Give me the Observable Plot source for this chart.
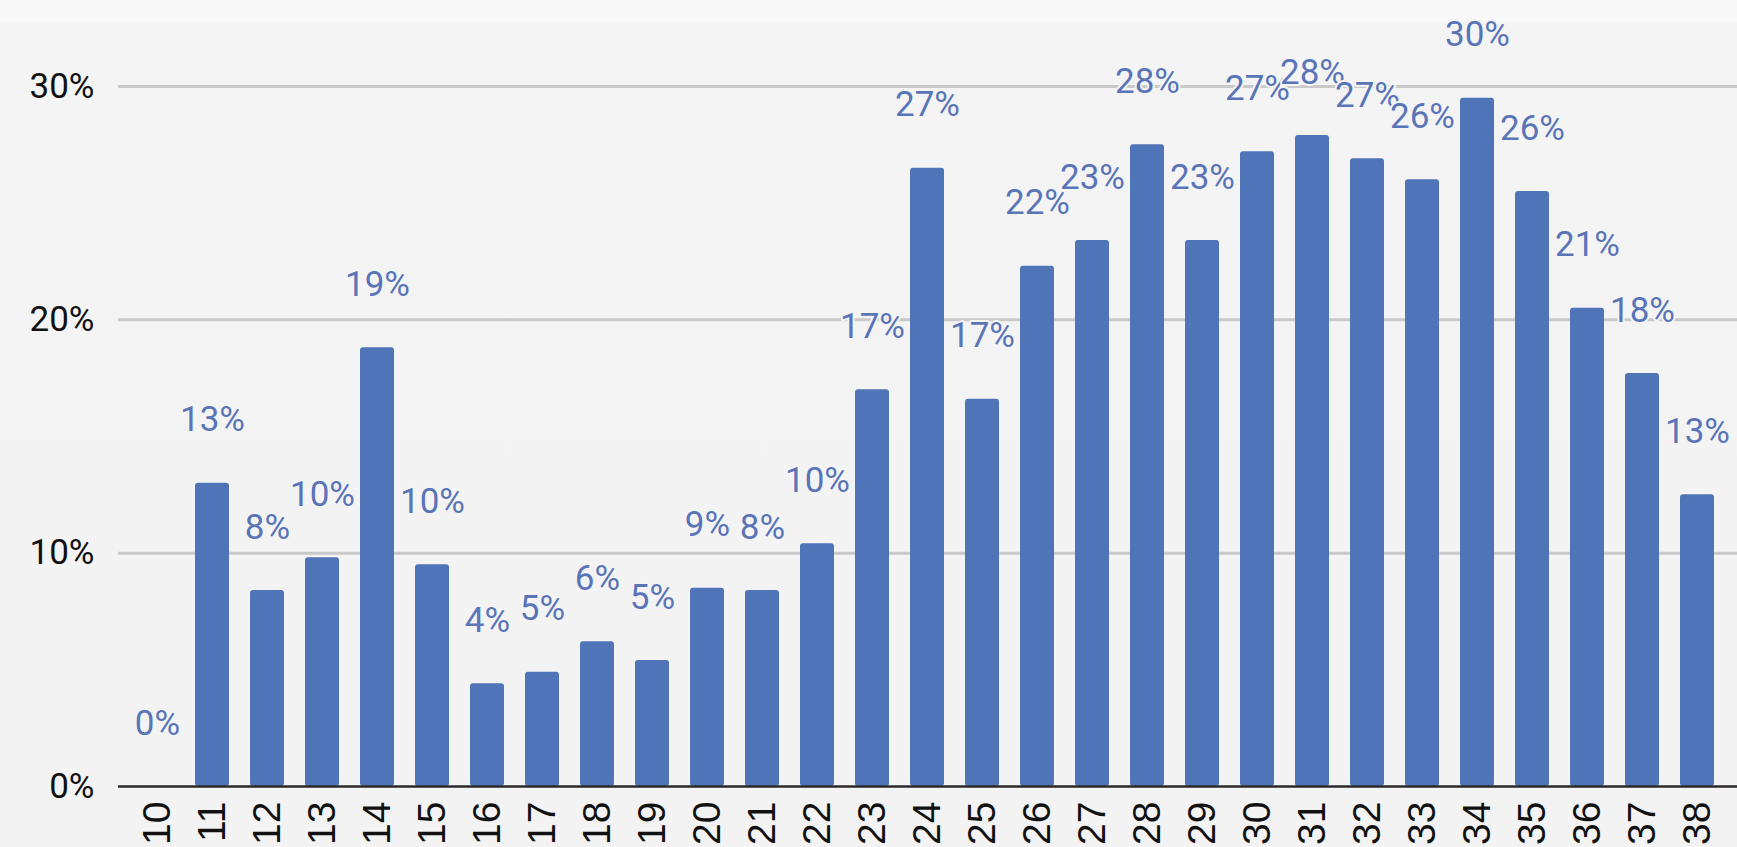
<!DOCTYPE html>
<html>
<head>
<meta charset="utf-8">
<script src="https://cdn.jsdelivr.net/npm/d3@7"></script>
<script src="https://cdn.jsdelivr.net/npm/@observablehq/plot@0.6"></script>
<style>
  html, body { margin: 0; padding: 0; background: #f4f4f4; }
  #chart { width: 1737px; height: 847px; overflow: hidden;
    background: linear-gradient(to bottom, #f8f8f8 0px, #f8f8f8 21px, #f4f4f4 23px, #f3f3f3 100%); }
  svg { display: block; }
</style>
</head>
<body>
<div id="chart"></div>
<script>
const categories = ["10","11","12","13","14","15","16","17","18","19","20","21","22","23","24","25","26","27","28","29","30","31","32","33","34","35","36","37","38"];
const values = [0, 13.0, 8.4, 9.8, 18.8, 9.5, 4.4, 4.9, 6.2, 5.4, 8.5, 8.4, 10.4, 17.0, 26.5, 16.6, 22.3, 23.4, 27.5, 23.4, 27.2, 27.9, 26.9, 26.0, 29.5, 25.5, 20.5, 17.7, 12.5];
const yTicks = [0, 10, 20, 30];

const data = categories.map((c, i) => ({category: c, value: values[i]}));

const chart = Plot.plot({
  width: 1737,
  height: 847,
  marginLeft: 118,
  marginRight: 0,
  marginTop: 86,
  marginBottom: 61,
  style: {background: "transparent", fontFamily: "Roboto, 'Liberation Sans', sans-serif", color: "#111", overflow: "visible"},
  x: {domain: categories, paddingInner: 0.38, paddingOuter: 0.355, label: null},
  y: {domain: [0, 30], label: null},
  marks: [
    Plot.ruleY(yTicks.filter(d => d > 0), {stroke: "#c9c9c9", strokeWidth: 3}),
    Plot.axisY({ticks: yTicks, tickFormat: d => d + "%", tickSize: 0, tickPadding: 24, fontSize: 35, label: null}),
    Plot.axisX({tickRotate: -90, tickSize: 0, tickPadding: 15, fontSize: 39, fontFamily: "'Liberation Sans', Arial, sans-serif", label: null}),
    Plot.barY(data, {x: "category", y: "value", fill: "#4f74b8", rx: 3}),
    Plot.ruleY([0], {stroke: "#2a2a2a", strokeWidth: 2.5}),
    Plot.text(data, {
      x: "category",
      y: "value",
      text: d => Math.round(d.value) + "%",
      dy: -63,
      fontSize: 35,
      fill: "#5a74b8",
      stroke: "#f4f4f4",
      strokeWidth: 4
    })
  ]
});
document.getElementById("chart").appendChild(chart);
</script>
</body>
</html>
